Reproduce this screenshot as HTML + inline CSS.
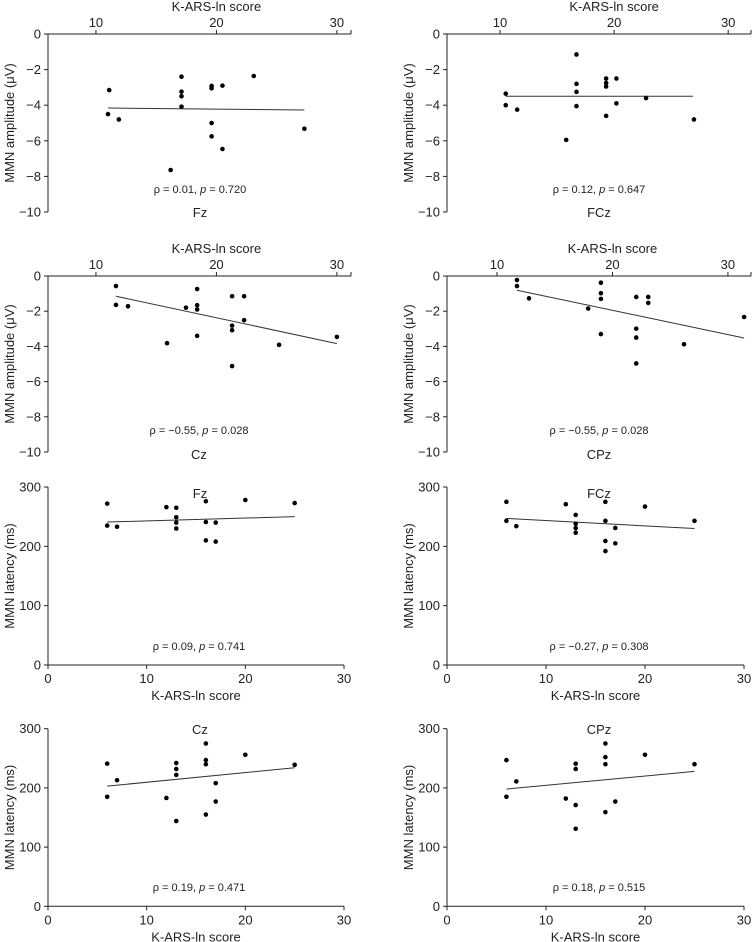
<!DOCTYPE html>
<html><head><meta charset="utf-8">
<style>
html,body{margin:0;padding:0;background:#fff;}
svg{display:block;font-family:"Liberation Sans",sans-serif;}
</style></head>
<body>
<svg id="fig" width="752" height="942" viewBox="0 0 752 942" xmlns="http://www.w3.org/2000/svg"></svg>
<script>
// ---- Data: amplitude panels (K-ARS-ln score vs MMN amplitude) ----
const fzAmpX = [11.1,11.0,11.9,17.1,17.1,17.1,17.1,16.2,19.6,19.6,20.5,23.1,19.6,19.6,20.5,27.3];
const fzAmpY = [-3.15,-4.5,-4.8,-2.4,-3.24,-3.5,-4.08,-7.64,-2.92,-3.05,-2.9,-2.36,-5.0,-5.75,-6.46,-5.32];
const fzAmpFit = [[11.0,-4.16],[27.3,-4.27]];
const fczAmpX = [10.5,10.5,11.5,16.7,16.7,16.7,16.7,15.8,19.3,19.3,19.3,19.3,20.2,20.2,22.8,27.0];
const fczAmpY = [-3.35,-4.0,-4.25,-1.15,-2.8,-3.25,-4.05,-5.95,-2.5,-2.75,-2.95,-4.6,-2.5,-3.9,-3.6,-4.8];
const fczAmpFit = [[10.5,-3.5],[26.9,-3.5]];
const czAmpX = [11.66,11.66,12.66,17.47,18.4,18.4,18.4,18.4,15.9,21.3,21.3,21.3,21.3,22.3,22.3,25.2,30.0];
const czAmpY = [-0.57,-1.64,-1.72,-1.8,-0.74,-1.66,-1.9,-3.4,-3.82,-1.15,-2.82,-3.08,-5.12,-1.15,-2.51,-3.91,-3.46];
const czAmpFit = [[11.66,-1.15],[30.0,-3.84]];
const cpzAmpX = [11.73,11.73,12.77,17.9,19.0,19.0,19.0,19.0,22.06,22.06,22.06,22.06,23.1,23.1,26.2,31.4];
const cpzAmpY = [-0.23,-0.57,-1.27,-1.85,-0.38,-0.98,-1.3,-3.3,-1.19,-2.99,-3.5,-4.97,-1.19,-1.53,-3.88,-2.33];
const cpzAmpFit = [[11.73,-0.81],[31.4,-3.52]];
// ---- Data: latency panels ----
const fzLatX = [6,6,7,12,13,13,13,13,16,16,16,17,17,20,25];
const fzLatY = [272,235,233,266,265,249,240,230,276,241,210,240,208,278,273];
const fzLatFit = [[6,241],[25,250]];
const fczLatX = [6,6,7,12,13,13,13,13,16,16,16,16,17,17,20,25];
const fczLatY = [275,243,234,271,253,238,231,223,275,243,209,192,231,205,267,243];
const fczLatFit = [[6,247],[25,230]];
const czLatX = [6,6,7,12,13,13,13,13,16,16,16,16,17,17,20,25];
const czLatY = [241,185,213,183,242,232,222,144,275,247,240,155,208,177,256,239];
const czLatFit = [[6,203],[25,234]];
const cpzLatX = [6,6,7,12,13,13,13,13,16,16,16,16,17,20,25];
const cpzLatY = [247,185,211,182,241,232,171,131,275,252,240,159,177,256,240];
const cpzLatFit = [[6,198],[25,228]];
// ---- Tick labels ----
const ampXTicks = [10,20,30];
const ampYTicks = [0,-2,-4,-6,-8,-10];
const latXTicks = [0,10,20,30];
const latYTicks = [0,100,200,300];

const NS="http://www.w3.org/2000/svg";
const svg=document.getElementById('fig');
function mk(tag,attrs,parent,text){
  const e=document.createElementNS(NS,tag);
  for(const k in attrs)e.setAttribute(k,attrs[k]);
  if(text!==undefined)e.textContent=text;
  (parent||svg).appendChild(e);return e;
}
function fmt(v){return v<0?'\u2212'+Math.abs(v):String(v);}

function panel(o){
  const g=mk('g',{});
  
  
  const sx=v=>o.x0+(v-o.xmin)/(o.xmax-o.xmin)*(o.x1-o.x0);
  const sy=v=>o.yTop+(o.ymax-v)/(o.ymax-o.ymin)*(o.yBot-o.yTop);
  const st={stroke:'#222','stroke-width':1,fill:'none'};
  // y axis
  const ya=mk('line',Object.assign({x1:o.x0,y1:o.yTop,x2:o.x0,y2:o.yBot},st),g);
  
  o.yTicks.forEach(t=>{
    const y=sy(t);
    mk('line',Object.assign({x1:o.x0-4,y1:y,x2:o.x0,y2:y},st),g);
    const tl=mk('text',{x:o.x0-7,y:y+4.5,'text-anchor':'end','font-size':13,fill:'#222'},g,fmt(t));
    
  });
  const yl=mk('text',{transform:`translate(${o.x0-34},${(o.yTop+o.yBot)/2}) rotate(-90)`,'text-anchor':'middle','font-size':13,fill:'#222'},g,o.ylabel);
  
  // x axis
  const ax=o.top?o.yTop:o.yBot;
  const dir=o.top?-1:1;
  const xa=mk('line',Object.assign({x1:o.x0,y1:ax,x2:o.x1,y2:ax},st),g);
  
  if(o.top) mk('line',Object.assign({x1:o.x1,y1:ax,x2:o.x1,y2:ax-4},st),g);
  o.xTicks.forEach(t=>{
    const x=sx(t);
    mk('line',Object.assign({x1:x,y1:ax,x2:x,y2:ax+4*dir},st),g);
    const tl=mk('text',{x:x,y:o.top?ax-7:ax+18,'text-anchor':'middle','font-size':13,fill:'#222'},g,String(t));
    
  });
  const xt=mk('text',{x:(sx(o.xTicks[0])+sx(o.xTicks[o.xTicks.length-1]))/2+(o.top?0:0),y:o.top?ax-23:ax+35,'text-anchor':'middle','font-size':13,fill:'#222'},g,'K-ARS-ln score');
  
  // fit line
  const fl=mk('line',{x1:sx(o.fit[0][0]),y1:sy(o.fit[0][1]),x2:sx(o.fit[1][0]),y2:sy(o.fit[1][1]),stroke:'#333','stroke-width':1},g);
  
  // points
  o.xs.forEach((xv,i)=>{
    const c=mk('circle',{cx:sx(xv),cy:sy(o.ys[i]),r:2.3,fill:'#000'},g);
    
    
  });
  // stats + electrode label
  const s=mk('text',{x:o.statX,y:o.statY,'text-anchor':'middle','font-size':11,fill:'#222'},g);
  
  s.innerHTML=`\u03c1 = ${o.rho}, <tspan font-style="italic">p</tspan> = ${o.p}`;
  const el=mk('text',{x:o.labX,y:o.labY,'text-anchor':'middle','font-size':13,fill:'#222'},g,o.label);
  
}

const ampCommon={ymin:-10,ymax:0,yTicks:ampYTicks,xTicks:ampXTicks,top:true,ylabel:'MMN amplitude (\u03bcV)'};
const latCommon={ymin:0,ymax:300,yTicks:latYTicks,xTicks:latXTicks,top:false,xmin:0,xmax:30,ylabel:'MMN latency (ms)'};

panel(Object.assign({},ampCommon,{name:'fz-amplitude-panel',x0:48,x1:351,xmin:6.02,xmax:31.17,yTop:34,yBot:212,xs:fzAmpX,ys:fzAmpY,fit:fzAmpFit,rho:'0.01',p:'0.720',label:'Fz',statX:200,statY:193,labX:200,labY:217}));
panel(Object.assign({},ampCommon,{name:'fcz-amplitude-panel',x0:447,x1:751,xmin:5.35,xmax:32.0,yTop:34,yBot:212,xs:fczAmpX,ys:fczAmpY,fit:fczAmpFit,rho:'0.12',p:'0.647',label:'FCz',statX:599,statY:193,labX:599,labY:217}));
panel(Object.assign({},ampCommon,{name:'cz-amplitude-panel',x0:48,x1:351,xmin:6.02,xmax:31.17,yTop:276,yBot:452,xs:czAmpX,ys:czAmpY,fit:czAmpFit,rho:'\u22120.55',p:'0.028',label:'Cz',statX:199,statY:434,labX:199,labY:459}));
panel(Object.assign({},ampCommon,{name:'cpz-amplitude-panel',x0:447,x1:751,xmin:5.67,xmax:32.0,yTop:276,yBot:452,xs:cpzAmpX,ys:cpzAmpY,fit:cpzAmpFit,rho:'\u22120.55',p:'0.028',label:'CPz',statX:599,statY:434,labX:599,labY:459}));
panel(Object.assign({},latCommon,{name:'fz-latency-panel',x0:48,x1:344,yTop:487,yBot:665,xs:fzLatX,ys:fzLatY,fit:fzLatFit,rho:'0.09',p:'0.741',label:'Fz',statX:199,statY:650,labX:200,labY:498}));
panel(Object.assign({},latCommon,{name:'fcz-latency-panel',x0:447,x1:744,yTop:487,yBot:665,xs:fczLatX,ys:fczLatY,fit:fczLatFit,rho:'\u22120.27',p:'0.308',label:'FCz',statX:599,statY:650,labX:599,labY:498}));
panel(Object.assign({},latCommon,{name:'cz-latency-panel',x0:48,x1:344,yTop:728.7,yBot:906.3,xs:czLatX,ys:czLatY,fit:czLatFit,rho:'0.19',p:'0.471',label:'Cz',statX:199,statY:891,labX:200,labY:734}));
panel(Object.assign({},latCommon,{name:'cpz-latency-panel',x0:447,x1:744,yTop:728.7,yBot:906.3,xs:cpzLatX,ys:cpzLatY,fit:cpzLatFit,rho:'0.18',p:'0.515',label:'CPz',statX:599,statY:891,labX:599,labY:734}));
</script>
</body></html>
